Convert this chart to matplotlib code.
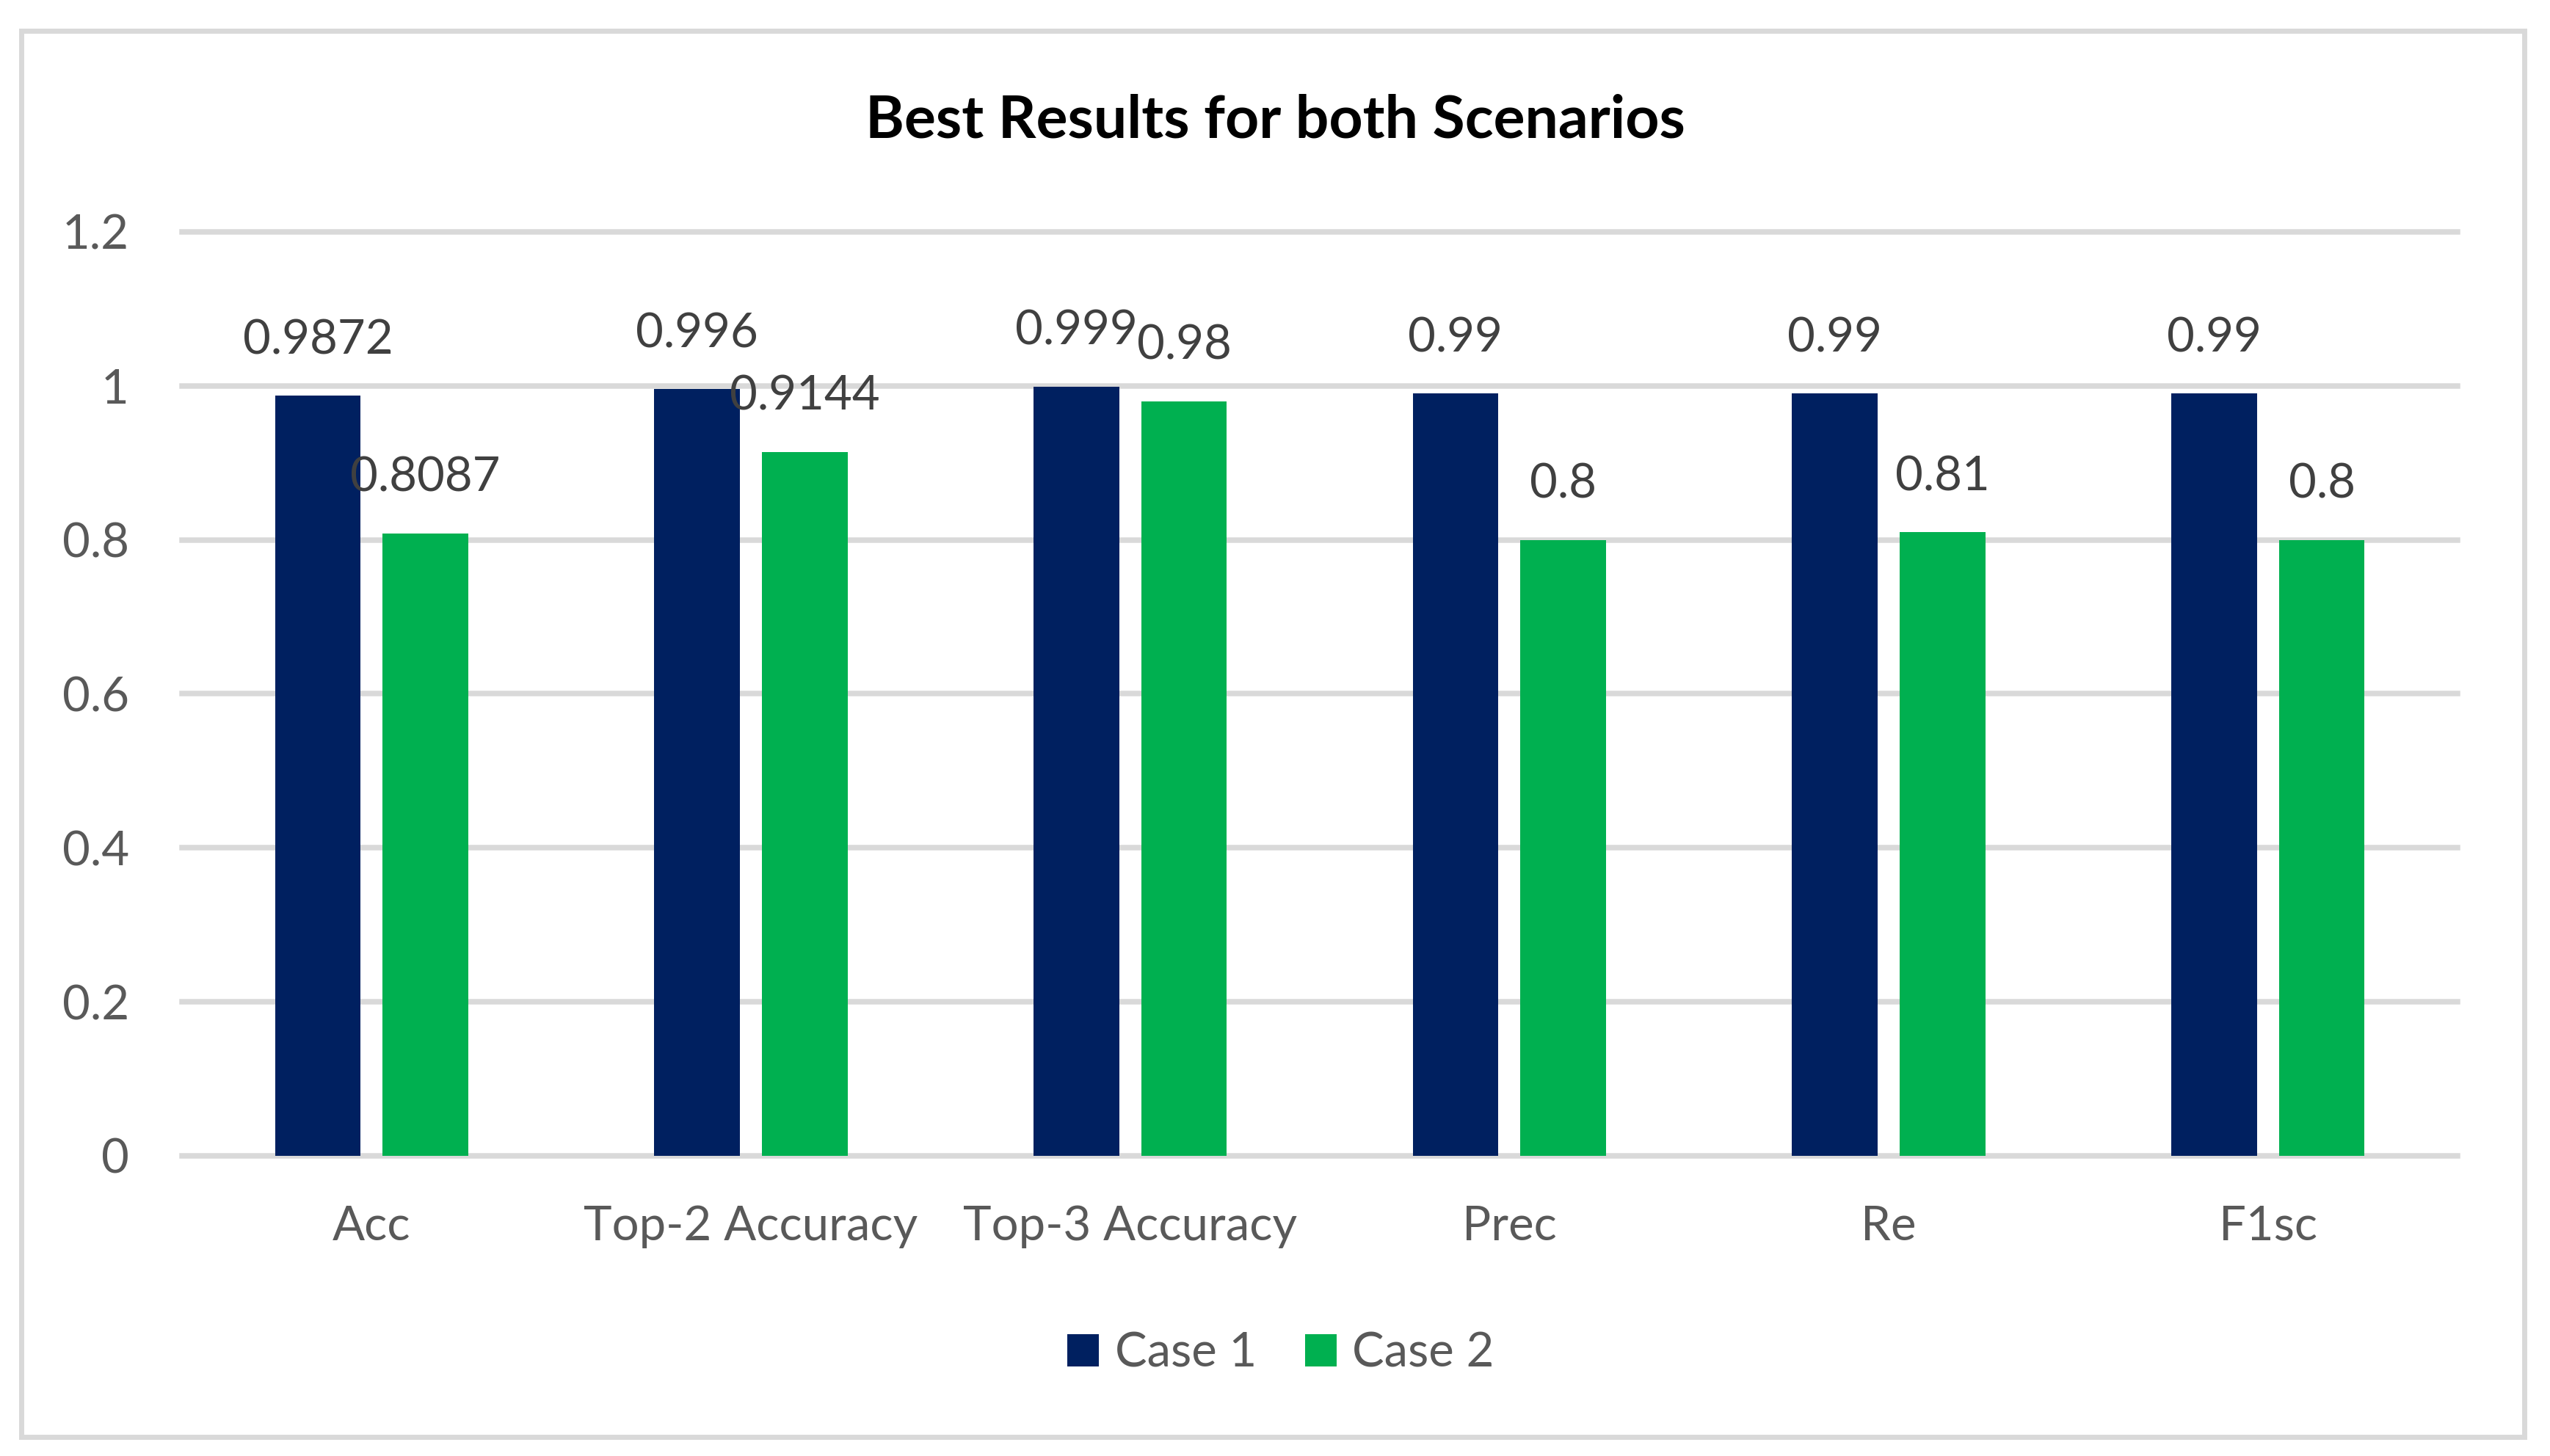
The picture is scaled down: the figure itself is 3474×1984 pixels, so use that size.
import numpy as np
import matplotlib
matplotlib.use('Agg')
import matplotlib.pyplot as plt
from matplotlib.patches import Rectangle

# Datos
categorias = ['Acc', 'Top-2 Accuracy', 'Top-3 Accuracy', 'Prec', 'Re', 'F1sc']
case1 = [0.9872, 0.996, 0.999, 0.99, 0.99, 0.99]
case2 = [0.8087, 0.9144, 0.98, 0.8, 0.81, 0.8]
etiquetas1 = ['0.9872', '0.996', '0.999', '0.99', '0.99', '0.99']
etiquetas2 = ['0.8087', '0.9144', '0.98', '0.8', '0.81', '0.8']
yticks = [0, 0.2, 0.4, 0.6, 0.8, 1.0, 1.2]
ytick_labels = ['0', '0.2', '0.4', '0.6', '0.8', '1', '1.2']

plt.rcParams['font.family'] = ['Lato', 'DejaVu Sans']

azul = '#002060'
verde = '#00B050'
gris = '#D9D9D9'

fig = plt.figure(figsize=(34.74, 19.84), dpi=100)
ax = fig.add_axes([0.07139, 0.20615, 0.89234, 0.63458])

x = np.arange(len(categorias))
w = 0.226
off = 0.142
b1 = ax.bar(x - off, case1, w, color=azul, label='Case 1', zorder=3)
b2 = ax.bar(x + off, case2, w, color=verde, label='Case 2', zorder=3)

# Etiquetas de datos
for barras, etq in ((b1, etiquetas1), (b2, etiquetas2)):
    for b, t in zip(barras, etq):
        ax.annotate(t, (b.get_x() + b.get_width() / 2, b.get_height()),
                    xytext=(0, 41), textcoords='offset points',
                    ha='center', va='baseline', fontsize=47, color='#404040', zorder=4)

ax.set_xlim(-0.5, len(categorias) - 0.5)
ax.set_ylim(0, 1.2)
for t in yticks:
    ax.axhline(t, color=gris, lw=5.4, zorder=1, clip_on=False)

ax.set_yticks(yticks)
ax.set_yticklabels(ytick_labels)
ax.set_xticks(x)
ax.set_xticklabels(categorias)
ax.tick_params(axis='both', length=0, labelsize=47, labelcolor='#595959')
ax.tick_params(axis='y', pad=52)
ax.tick_params(axis='x', pad=48)
for s in ax.spines.values():
    s.set_visible(False)

fig.text(0.5, 1 - 164 / 1984, 'Best Results for both Scenarios', ha='center', va='center',
         fontsize=58, fontweight='bold', color='black')

fig.legend(loc='center', bbox_to_anchor=(1745 / 3474, 1 - 1844 / 1984), ncol=2, frameon=False,
           fontsize=47, labelcolor='#595959', handlelength=0.66, handleheight=0.66,
           handletextpad=0.33, columnspacing=1.0)

# Borde del grafico
fig.patches.append(Rectangle((29 / 3474, 1 - 1958 / 1984), (3439 - 29) / 3474, (1958 - 42) / 1984,
                             transform=fig.transFigure, fill=False, edgecolor=gris, lw=5))

fig.savefig('out.png', dpi=100, facecolor='white')
